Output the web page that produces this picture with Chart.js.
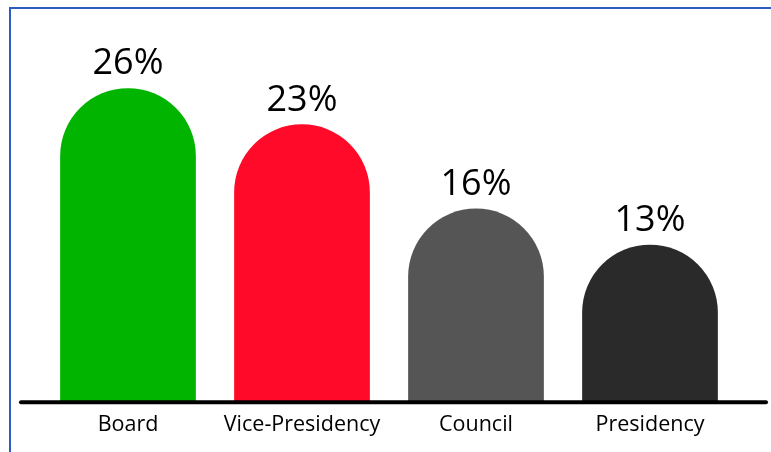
<!DOCTYPE html>
<html>
<head>
<meta charset="utf-8">
<script src="https://cdn.jsdelivr.net/npm/chart.js@4"></script>
<style>
    body { margin: 0; background: #fff; overflow: hidden; }
    #wrap { position: relative; width: 771px; height: 452px; }
    #frame {
        position: absolute; left: 9px; top: 7px; width: 800px; height: 500px;
        border-top: 2px solid #2d5bc2; border-left: 2px solid #2d5bc2;
    }
    canvas { position: absolute; left: 0; top: 0; }
</style>
</head>
<body>
<div id="wrap">
    <div id="frame"></div>
    <canvas id="chart" width="771" height="452"></canvas>
</div>
<script>
// --- Data ---
const categories = ['Board', 'Vice-Presidency', 'Council', 'Presidency'];
const shares = [26, 23, 16, 13];
const barColors = ['#00b400', '#ff0a28', '#555555', '#2a2a2a'];

const FONT = '"Open Sans", "Liberation Sans", sans-serif';

// Percent labels above each rounded bar
const valueLabels = {
    id: 'valueLabels',
    afterDatasetsDraw(chart) {
        const ctx = chart.ctx;
        const meta = chart.getDatasetMeta(0);
        ctx.save();
        ctx.font = '36px ' + FONT;
        ctx.fillStyle = '#000';
        ctx.textAlign = 'center';
        ctx.textBaseline = 'bottom';
        meta.data.forEach((bar, i) => {
            ctx.fillText(shares[i] + '%', bar.x, bar.y - 6);
        });
        ctx.restore();
    }
};

// Thick baseline, runs a bit wider than the plot area
const baseline = {
    id: 'baseline',
    afterDatasetsDraw(chart) {
        const ctx = chart.ctx;
        const y = chart.scales.y.getPixelForValue(0);
        ctx.save();
        ctx.strokeStyle = '#000';
        ctx.lineWidth = 4;
        ctx.lineCap = 'round';
        ctx.beginPath();
        ctx.moveTo(chart.chartArea.left - 20, y + 1);
        ctx.lineTo(chart.chartArea.right + 29, y + 1);
        ctx.stroke();
        ctx.restore();
    }
};

new Chart(document.getElementById('chart').getContext('2d'), {
    type: 'bar',
    data: {
        labels: categories,
        datasets: [{
            data: shares,
            backgroundColor: barColors,
            borderWidth: 0,
            borderSkipped: 'bottom',
            borderRadius: { topLeft: 100, topRight: 100, bottomLeft: 0, bottomRight: 0 },
            barPercentage: 0.78,
            categoryPercentage: 1
        }]
    },
    options: {
        responsive: false,
        animation: false,
        layout: { padding: { left: 41, right: 34, top: 40, bottom: 11 } },
        plugins: {
            legend: { display: false },
            tooltip: { enabled: false }
        },
        scales: {
            x: {
                grid: { display: false },
                border: { display: false },
                ticks: {
                    color: '#000',
                    padding: 3,
                    font: { family: FONT, size: 21.5 }
                }
            },
            y: {
                display: false,
                min: 0,
                max: 30
            }
        }
    },
    plugins: [valueLabels, baseline]
});
</script>
</body>
</html>
